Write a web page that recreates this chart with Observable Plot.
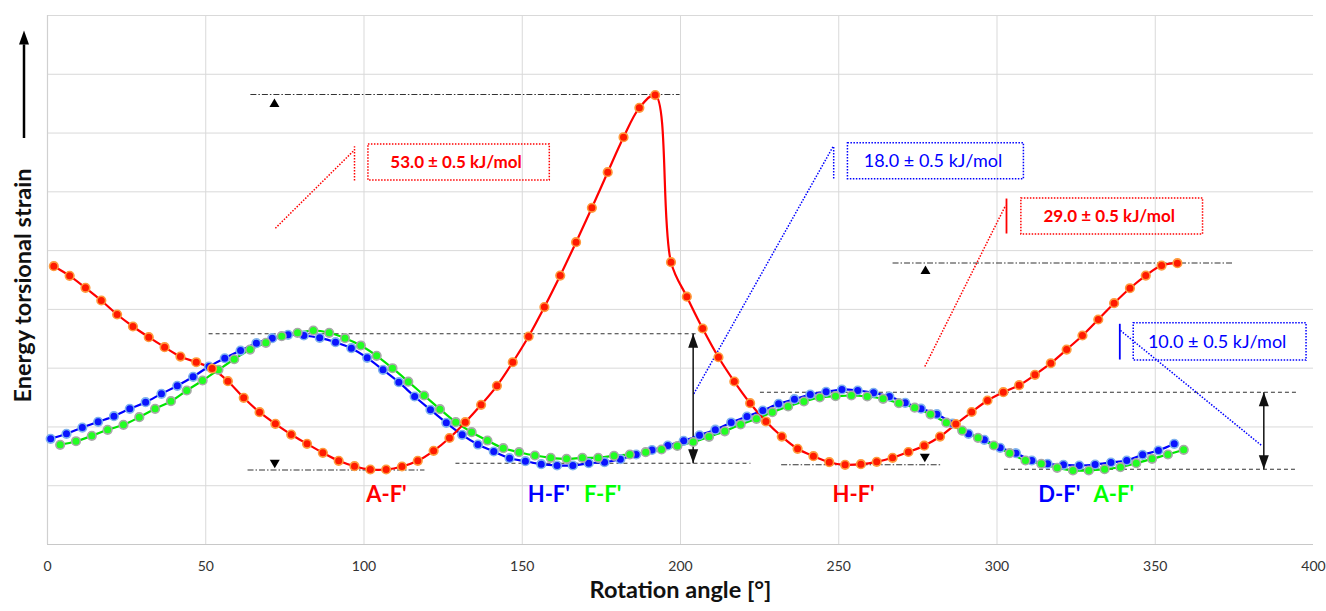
<!DOCTYPE html>
<html><head><meta charset="utf-8">
<script src="https://cdn.jsdelivr.net/npm/d3@7"></script>
<script src="https://cdn.jsdelivr.net/npm/@observablehq/plot@0.6"></script>
<style>body{margin:0;background:#fff;} #chart svg{display:block}</style>
</head><body><div id="chart"></div>
<script>
// ---- Data (rotation angle in degrees, relative energy in arbitrary units; no y tick labels in the source) ----
const redAngle = [2,7,12,17,22,27,32,37,42,47,52,57,62,67,72,77,82,87,92,97,102,107,112,117,122,127,132,137,142,147,152,157,162,167,172,177,182,187,192,197,202,207,212,217,222,227,232,237,242,247,252,257,262,267,272,277,282,287,292,297,302,307,312,317,322,327,332,337,342,347,352,357];
const redEnergy = [47.35,45.71,43.67,41.51,39.13,37.09,35.27,33.57,31.98,31.01,29.94,27.78,24.96,22.51,20.53,18.71,17.13,15.60,14.24,13.32,12.76,12.76,13.27,14.24,15.94,18.12,20.81,23.77,27.00,31.01,35.39,40.40,45.76,51.43,57.28,63.34,69.29,74.29,76.47,48.03,42.16,36.75,31.86,27.73,24.04,20.93,18.37,16.28,15.02,14.00,13.56,13.66,14.07,14.75,15.74,16.81,18.37,20.50,22.54,24.50,25.91,27.10,28.87,30.84,33.17,35.56,38.28,41.05,43.60,45.76,47.46,47.86];

const blueAngle = [1,6,11,16,21,26,31,36,41,46,51,56,61,66,71,76,81,86,91,96,101,106,111,116,121,126,131,136,141,146,151,156,161,166,171,176,181,186,191,196,201,206,211,216,221,226,231,236,241,246,251,256,261,266,271,276,281,286,291,296,301,306,311,316,321,326,331,336,341,346,351,356];
const blueEnergy = [17.98,18.83,19.90,20.87,21.83,23.09,24.21,25.64,27.00,28.53,30.28,31.69,33.00,34.25,35.10,35.68,35.56,35.16,34.42,33.40,31.76,29.72,27.61,25.18,22.92,20.70,18.66,17.01,15.82,14.68,14.17,13.66,13.44,13.44,13.83,14.00,14.51,15.31,16.08,16.84,17.64,18.59,19.53,20.76,21.78,22.80,23.94,24.72,25.52,25.98,26.37,26.20,25.81,25.18,24.10,23.10,22.17,20.59,18.83,17.81,16.45,15.53,14.29,13.73,13.56,13.44,13.61,13.95,14.29,15.26,15.99,17.13];

const greenAngle = [4,9,14,19,24,29,34,39,44,49,54,59,64,69,74,79,84,89,94,99,104,109,114,119,124,129,134,139,144,149,154,159,164,169,174,179,184,189,194,199,204,209,214,219,224,229,234,239,244,249,254,259,264,269,274,279,284,289,294,299,304,309,314,319,324,329,334,339,344,349,354,359];
const greenEnergy = [16.96,17.57,18.49,19.51,20.36,21.66,23.09,24.38,26.20,27.90,29.72,31.52,33.17,34.31,35.44,36.02,36.41,36.02,35.10,33.86,32.10,29.99,27.70,25.35,23.02,20.81,19.11,17.69,16.38,15.70,15.14,14.75,14.58,14.75,14.75,15.09,15.31,15.70,16.16,16.76,17.44,18.32,19.26,20.42,21.38,22.51,23.48,24.33,25.01,25.23,25.35,25.18,24.79,24.04,23.27,22.15,20.72,19.39,18.15,16.84,15.53,14.29,13.73,13.05,12.59,12.59,12.81,13.15,13.83,14.58,15.31,16.11];

const xTicks = [0,50,100,150,200,250,300,350,400];
const xGrid = [50,100,150,200,250,300,350];
const yGrid = [10,20,30,40,50,60,70,80,90];
const xTitle = "Rotation angle [°]";
const yTitle = "Energy torsional strain";

// conformer labels
const labelText = ["A-F'","H-F'","F-F'","H-F'","D-F'","A-F'"];
const labelAngle = [107.1,158.4,175.4,254.7,319.7,336.9];
const labelSeries = ["red","blue","green","red","blue","green"];
const labelEnergy = 8.4;

// reference level lines
const levelX1 = [64.1,63.2,231.8,267.0,50.9,128.9,225.1,302.2];
const levelX2 = [199.7,119.1,282.5,374.8,205.3,222.1,394.9,394.9];
const levelY  = [76.56,12.67,13.56,47.89,35.85,13.83,25.89,12.81];
const levelKind = ["dashdot","dashdot","dashdot","dashdot","dash","dash","dash","dash"];

// small level triangles (tip position)
const triUpAngle = [71.7,277.4], triUpEnergy = [75.88,47.47];
const triDownAngle = [71.8,277.2], triDownEnergy = [12.98,14.0];

// double-headed barrier arrows
const gapAngle = [204.0,384.3], gapTop = [35.85,25.89], gapBottom = [13.83,12.81];

// barrier value boxes
const boxText = ["53.0 ± 0.5 kJ/mol","18.0 ± 0.5 kJ/mol","29.0 ± 0.5 kJ/mol","10.0 ± 0.5 kJ/mol"];
const boxSeries = ["red","blue","red","blue"];
const boxBold = [true,false,true,false];
const boxX1 = [101.4,252.9,307.7,343.2], boxX2 = [158.7,308.5,365.1,397.8];
const boxY1 = [61.93,62.15,52.74,31.30], boxY2 = [68.05,68.27,58.86,37.65];
// leader lines
const leadX1 = [72.0,204.2,277.2,339.0], leadY1 = [53.81,25.64,30.28,36.41];
const leadX2 = [96.8,248.4,302.7,383.6], leadY2 = [67.03,67.88,57.67,16.84];
// short bars next to boxes
const barX = [97.0,248.4,303.0,338.8], barY1 = [61.93,62.27,52.91,31.47], barY2 = [67.76,67.88,58.86,37.55];
const barSolid = [false,false,true,true];

// y-axis arrow (in energy units)
const axisArrowFrom = 69.07, axisArrowTo = 85.0, axisArrowTip = 87.44;

// ---- Styles ----
const lineColor = {red:"#ff0000", blue:"#0000ff", green:"#00e600"};
const dotFill = {red:"#ff1a00", blue:"#0a14ff", green:"#22ff22"};
const dotHalo = {red:"#ff9a3c", blue:"#7fb2ee", green:"#a8a8a8"};
const textColor = {red:"#ff0000", blue:"#0000ff", green:"#00ff00"};

// ---- Build tables ----
const series = [
  {name:"blue", angle:blueAngle, energy:blueEnergy},
  {name:"green", angle:greenAngle, energy:greenEnergy},
  {name:"red", angle:redAngle, energy:redEnergy}
];
const points = series.flatMap(s => s.angle.map((a,i) => ({series:s.name, angle:a, energy:s.energy[i]})));
const labels = labelText.map((t,i) => ({text:t, angle:labelAngle[i], energy:labelEnergy, series:labelSeries[i]}));
const levels = levelY.map((y,i) => ({x1:levelX1[i], x2:levelX2[i], y, kind:levelKind[i]}));
const boxes = boxText.map((t,i) => ({text:t, series:boxSeries[i], bold:boxBold[i], x1:boxX1[i], x2:boxX2[i], y1:boxY1[i], y2:boxY2[i]}));
const leaders = leadX1.map((x,i) => ({x1:x, y1:leadY1[i], x2:leadX2[i], y2:leadY2[i], series:boxSeries[i]}));
const bars = barX.map((x,i) => ({x, y1:barY1[i], y2:barY2[i], series:boxSeries[i], solid:barSolid[i]}));
const triUp = triUpAngle.map((a,i) => ({angle:a, energy:triUpEnergy[i]}));
const triDown = triDownAngle.map((a,i) => ({angle:a, energy:triDownEnergy[i]}));
const gaps = gapAngle.map((a,i) => ({angle:a, top:gapTop[i], bottom:gapBottom[i]}));

function tri(w, h, up) {
  return {draw(c) { const s = up ? 1 : -1; c.moveTo(0,0); c.lineTo(w/2, s*h); c.lineTo(-w/2, s*h); c.closePath(); }};
}
const smallUp = tri(10, 8.5, true), smallDown = tri(10, 8.5, false);
const headUp = tri(10, 14, true), headDown = tri(10, 14, false);

const dash = {dashdot:"6,2,1.5,2", dash:"4,3"};
const boxCenter = {x:d => (d.x1 + d.x2)/2, y:d => (d.y1 + d.y2)/2, text:"text", fill:d => textColor[d.series], dx:-3};

const marks = [
  Plot.gridY(yGrid, {stroke:"#d9d9d9", strokeOpacity:1, strokeWidth:1}),
  Plot.gridX(xGrid, {stroke:"#d9d9d9", strokeOpacity:1, strokeWidth:1}),
  Plot.ruleY([0], {stroke:"#c8c8c8", strokeWidth:1.2}),
  Plot.ruleX([0], {y1:0, y2:90, stroke:"#d0d0d0", strokeWidth:1.2}),
  Plot.axisX(xTicks, {tickSize:0, tickPadding:17, fontSize:14, fill:"#333", label:null}),
  // level lines
  ...["dashdot","dash"].map(k => Plot.link(levels.filter(d => d.kind === k), {x1:"x1", x2:"x2", y1:"y", y2:"y", stroke:"#333", strokeWidth:1.1, strokeDasharray:dash[k]})),
  // leaders and boxes
  Plot.link(leaders, {x1:"x1", y1:"y1", x2:"x2", y2:"y2", stroke:d => lineColor[d.series], strokeWidth:1.5, strokeDasharray:"1.5,1.5"}),
  Plot.link(bars.filter(d => !d.solid), {x1:"x", x2:"x", y1:"y1", y2:"y2", stroke:d => lineColor[d.series], strokeWidth:1.5, strokeDasharray:"1.5,1.5"}),
  Plot.link(bars.filter(d => d.solid), {x1:"x", x2:"x", y1:"y1", y2:"y2", stroke:d => lineColor[d.series], strokeWidth:1.8}),
  Plot.rect(boxes, {x1:"x1", x2:"x2", y1:"y1", y2:"y2", fill:"none", stroke:d => lineColor[d.series], strokeWidth:1.5, strokeDasharray:"1.5,1.5"}),
  Plot.text(boxes.filter(d => d.bold), {...boxCenter, fontWeight:"bold", fontSize:17}),
  Plot.text(boxes.filter(d => !d.bold), {...boxCenter, fontWeight:"normal", fontSize:18}),
  // barrier arrows
  Plot.link(gaps, {x1:"angle", x2:"angle", y1:"top", y2:"bottom", stroke:"#111", strokeWidth:1.5}),
  Plot.dot(gaps, {x:"angle", y:"top", symbol:headUp, fill:"#111", stroke:"none"}),
  Plot.dot(gaps, {x:"angle", y:"bottom", symbol:headDown, fill:"#111", stroke:"none"}),
  Plot.dot(triUp, {x:"angle", y:"energy", symbol:smallUp, fill:"#000", stroke:"none"}),
  Plot.dot(triDown, {x:"angle", y:"energy", symbol:smallDown, fill:"#000", stroke:"none"}),
  // curves
  ...series.map(s => Plot.line(points.filter(d => d.series === s.name), {x:"angle", y:"energy", stroke:lineColor[s.name], strokeWidth:2.2, curve:"catmull-rom"})),
  ...series.map(s => Plot.dot(points.filter(d => d.series === s.name), {x:"angle", y:"energy", r:4.3, fill:dotFill[s.name], stroke:dotHalo[s.name], strokeWidth:1.6})),
  // conformer labels
  Plot.text(labels, {x:"angle", y:"energy", text:"text", fill:d => textColor[d.series], fontWeight:"bold", fontSize:22}),
  // axis titles and arrow
  Plot.text([xTitle], {text:d => d, frameAnchor:"bottom", textAnchor:"middle", dy:53, fontSize:23.5, fontWeight:"bold", fill:"#111"}),
  Plot.text([yTitle], {text:d => d, frameAnchor:"left", textAnchor:"middle", lineAnchor:"middle", dx:-24, dy:5.5, rotate:-90, fontSize:23.5, fontWeight:"bold", fill:"#111"}),
  Plot.ruleX([0], {dx:-23.5, y1:axisArrowFrom, y2:axisArrowTo, stroke:"#000", strokeWidth:2.5}),
  Plot.dot([0], {x:0, y:axisArrowTip, dx:-23.5, symbol:headUp, fill:"#000", stroke:"none"})
];

const chart = Plot.plot({
  width:1326, height:611,
  marginLeft:47, marginRight:13, marginTop:15, marginBottom:67,
  style:{fontFamily:"Lato, 'Open Sans', sans-serif", background:"#fff", overflow:"visible"},
  x:{domain:[0,400]},
  y:{domain:[0,90], axis:null},
  marks
});
document.getElementById("chart").appendChild(chart);
</script></body></html>
